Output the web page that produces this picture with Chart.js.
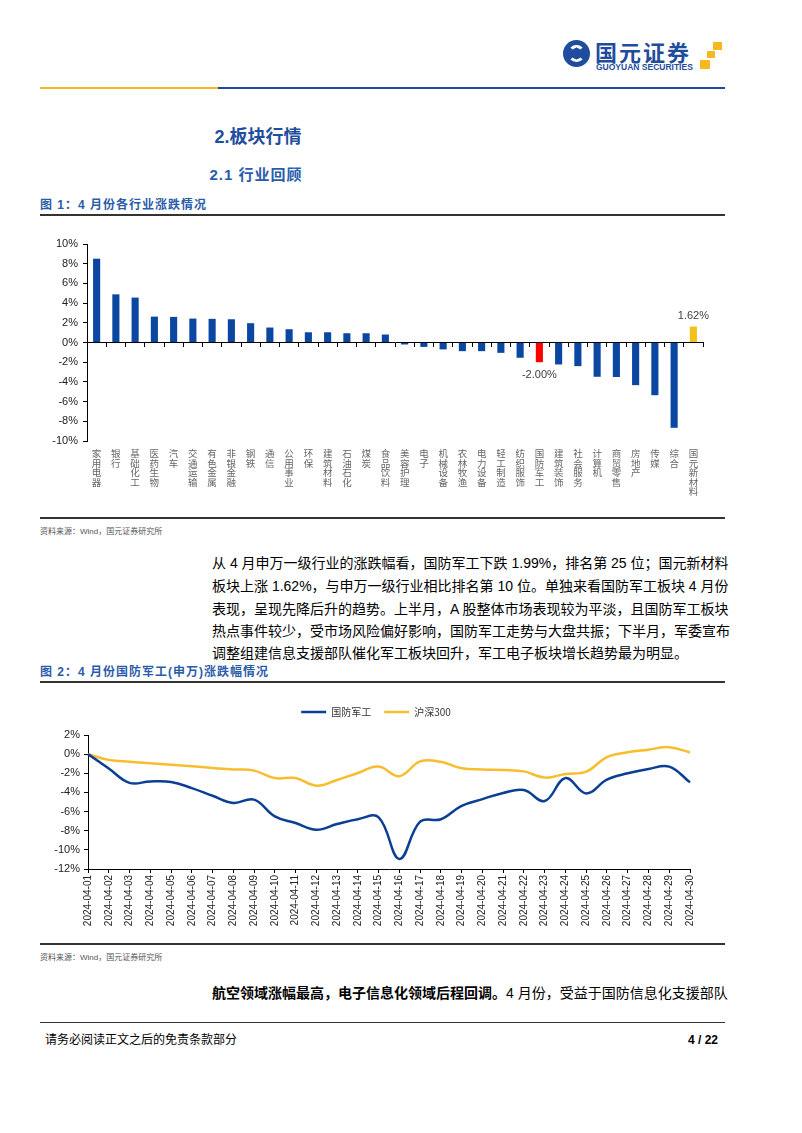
<!DOCTYPE html>
<html>
<head>
<meta charset="utf-8">
<script src="https://cdn.jsdelivr.net/npm/chart.js@4.4.1/dist/chart.umd.min.js"></script>
<style>
  body { margin:0; width:802px; height:1133px; position:relative; overflow:hidden; background:#fff;
         font-family:"Liberation Sans","Noto Sans CJK SC",sans-serif; color:#000; }
  .abs { position:absolute; }
  .rule { position:absolute; left:40px; width:685px; height:1.5px; background:#333; }
  .figtitle { position:absolute; left:40px; font-size:12px; font-weight:bold; color:#2a5caa; letter-spacing:1px; }
  .src { position:absolute; left:40px; font-size:8px; color:#555; }
  .para { position:absolute; left:212px; width:513px; height:22px; line-height:22px; font-size:14px;
          text-align:justify; text-align-last:justify; white-space:nowrap; }
</style>
</head>
<body>
<!-- header logo -->
<div class="abs" style="left:563px;top:40px;width:27px;height:27px;border-radius:50%;background:#1f4c9c;"></div>
<div class="abs" style="left:568px;top:45px;width:11px;height:11px;border-radius:50%;border:3px solid #fff;border-right-color:transparent;border-left-color:transparent;"></div>
<div class="abs" style="left:572px;top:49px;width:9px;height:9px;background:#1f4c9c;transform:rotate(45deg);"></div>
<div class="abs" style="left:595px;top:38px;font-size:22px;font-weight:bold;color:#1f4c9c;letter-spacing:2px;font-family:'Noto Sans CJK SC';line-height:26px;">国元证券</div>
<div class="abs" style="left:596px;top:62px;font-size:8.5px;font-weight:bold;color:#1f4c9c;line-height:10px;">GUOYUAN SECURITIES</div>
<div class="abs" style="left:713px;top:42px;width:9px;height:8px;background:#f5b821;"></div>
<div class="abs" style="left:707px;top:51px;width:8px;height:7px;background:#f5b821;"></div>
<div class="abs" style="left:700px;top:60px;width:10px;height:9px;background:#f5b821;"></div>
<div class="abs" style="left:40px;top:87px;width:178px;height:2px;background:#f5b921;"></div>
<div class="abs" style="left:218px;top:87px;width:507px;height:2px;background:#1f4a9c;"></div>

<div class="abs" style="left:158px;width:200px;top:124px;text-align:center;font-size:18px;font-weight:bold;color:#1f4e9e;line-height:26px;">2.板块行情</div>
<div class="abs" style="left:156px;width:200px;top:164px;text-align:center;font-size:15px;font-weight:bold;color:#2a5caa;line-height:22px;letter-spacing:1px;">2.1 行业回顾</div>

<div class="figtitle" style="top:197px;line-height:16px;">图 1：4 月份各行业涨跌情况</div>
<div class="rule" style="top:214px;"></div>
<div class="abs" style="left:40px;top:225px;"><canvas id="c1" width="685" height="285"></canvas></div>
<div class="rule" style="top:517px;"></div>
<div class="src" style="top:525px;">资料来源：Wind，国元证券研究所</div>

<div class="para" style="top:552px;">从 4 月申万一级行业的涨跌幅看，国防军工下跌 1.99%，排名第 25 位；国元新材料</div>
<div class="para" style="top:575px;">板块上涨 1.62%，与申万一级行业相比排名第 10 位。单独来看国防军工板块 4 月份</div>
<div class="para" style="top:598px;">表现，呈现先降后升的趋势。上半月，A 股整体市场表现较为平淡，且国防军工板块</div>
<div class="para" style="top:620px;">热点事件较少，受市场风险偏好影响，国防军工走势与大盘共振；下半月，军委宣布</div>
<div class="para" style="top:642px;text-align-last:left;">调整组建信息支援部队催化军工板块回升，军工电子板块增长趋势最为明显。</div>

<div class="figtitle" style="top:664px;line-height:16px;">图 2：4 月份国防军工(申万)涨跌幅情况</div>
<div class="rule" style="top:681px;"></div>
<div class="abs" style="left:40px;top:690px;"><canvas id="c2" width="685" height="250"></canvas></div>
<div class="rule" style="top:943px;"></div>
<div class="src" style="top:951px;">资料来源：Wind，国元证券研究所</div>

<div class="para" style="top:982px;"><b>航空领域涨幅最高，电子信息化领域后程回调。</b>4 月份，受益于国防信息化支援部队</div>

<div class="rule" style="top:1022px;height:1px;"></div>
<div class="abs" style="left:45px;top:1032px;font-size:12px;line-height:16px;">请务必阅读正文之后的免责条款部分</div>
<div class="abs" style="left:688px;top:1032px;font-size:12px;font-weight:bold;line-height:16px;">4 / 22</div>

<script>
Chart.defaults.font.family = '"Liberation Sans", "Noto Sans CJK SC", sans-serif';
Chart.defaults.animation = false;

// figure 1: April change by SW level-1 industry (%)
const industries = ["家用电器","银行","基础化工","医药生物","汽车","交通运输","有色金属","非银金融","钢铁","通信",
  "公用事业","环保","建筑材料","石油石化","煤炭","食品饮料","美容护理","电子","机械设备","农林牧渔",
  "电力设备","轻工制造","纺织服饰","国防军工","建筑装饰","社会服务","计算机","商贸零售","房地产","传媒",
  "综合","国元新材料"];
const changes = [8.51,4.89,4.56,2.63,2.60,2.43,2.40,2.36,1.96,1.52,
  1.35,1.04,1.04,0.94,0.94,0.81,-0.20,-0.45,-0.70,-0.88,
  -0.88,-1.05,-1.55,-2.00,-2.23,-2.40,-3.48,-3.50,-4.33,-5.35,
  -8.66,1.62];
const labelled = ["国防军工","国元新材料"];
const barColors = industries.map(n => n === "国防军工" ? "#ff0000" : (n === "国元新材料" ? "#f5c018" : "#0b47a1"));

// figure 2: daily cumulative change (%)
const dates = ["2024-04-01","2024-04-02","2024-04-03","2024-04-04","2024-04-05","2024-04-06","2024-04-07","2024-04-08",
  "2024-04-09","2024-04-10","2024-04-11","2024-04-12","2024-04-13","2024-04-14","2024-04-15","2024-04-16",
  "2024-04-17","2024-04-18","2024-04-19","2024-04-20","2024-04-21","2024-04-22","2024-04-23","2024-04-24",
  "2024-04-25","2024-04-26","2024-04-27","2024-04-28","2024-04-29","2024-04-30"];
const guofang = [0,-1.5,-3.0,-2.85,-2.9,-3.55,-4.35,-5.1,-4.75,-6.5,-7.2,-7.9,-7.3,-6.8,-6.6,-10.95,
  -7.05,-6.8,-5.4,-4.7,-4.05,-3.75,-4.9,-2.5,-4.1,-2.65,-2.0,-1.55,-1.3,-2.95];
const hs300 = [0,-0.6,-0.8,-0.95,-1.1,-1.27,-1.44,-1.6,-1.72,-2.5,-2.5,-3.3,-2.7,-1.97,-1.3,-2.3,
  -0.75,-0.8,-1.48,-1.6,-1.65,-1.8,-2.45,-2.07,-1.83,-0.3,0.2,0.47,0.73,0.18];

const pct = v => v + "%";

//draw the value above / below highlighted bars
const valueLabels = {
  id: "valueLabels",
  afterDatasetsDraw(chart) {
    const meta = chart.getDatasetMeta(0);
    const ctx = chart.ctx;
    ctx.save();
    ctx.font = '11px "Liberation Sans"';
    ctx.fillStyle = "#404040";
    ctx.textAlign = "center";
    labelled.forEach(name => {
      const i = industries.indexOf(name);
      const bar = meta.data[i];
      const v = changes[i];
      if (v >= 0) {
        ctx.textBaseline = "bottom";
        ctx.fillText(v.toFixed(2) + "%", bar.x, bar.y - 5);
      } else {
        ctx.textBaseline = "top";
        ctx.fillText(v.toFixed(2) + "%", bar.x, bar.y + 7);
      }
    });
    ctx.restore();
  }
};

new Chart(document.getElementById("c1"), {
  type: "bar",
  plugins: [valueLabels],
  data: {
    labels: industries,
    datasets: [{ data: changes, backgroundColor: barColors, barPercentage: 0.37, categoryPercentage: 1 }]
  },
  options: {
    responsive: false,
    layout: { padding: { top: 19, right: 22, left: 0, bottom: 0 } },
    plugins: { legend: { display: false }, tooltip: { enabled: false } },
    scales: {
      x: {
        offset: true,
        grid: { display: false, drawTicks: false },
        border: { display: false },
        ticks: {
          autoSkip: false, maxRotation: 0, minRotation: 0, padding: 8, color: "#666",
          font: { family: '"Noto Sans CJK SC"', size: 9.5, lineHeight: 1.0 },
          callback: (v, i) => industries[i].split("")
        },
        afterFit: s => { s.height = 69; }
      },
      x0: {
        axis: "x", type: "category", labels: industries, offset: true, position: { y: 0 },
        grid: { offset: true, drawOnChartArea: false, drawTicks: true, tickLength: 4, color: "#000" },
        border: { display: true, color: "#000", width: 1 },
        ticks: { display: false }
      },
      y: {
        min: -10, max: 10,
        ticks: { stepSize: 2, padding: 5, color: "#222", font: { size: 11 }, callback: pct },
        grid: { drawOnChartArea: false, tickLength: 4, color: "#000" },
        border: { color: "#000" },
        afterFit: s => { s.width = 47; }
      }
    }
  }
});

//extra space between legend and plot
const legendGap = {
  id: "legendGap",
  beforeInit(chart) {
    const fit = chart.legend.fit;
    chart.legend.fit = function () { fit.call(this); this.height += 8; };
  }
};

new Chart(document.getElementById("c2"), {
  type: "line",
  plugins: [legendGap],
  data: {
    labels: dates,
    datasets: [
      { label: "国防军工", data: guofang, borderColor: "#0b3f94", backgroundColor: "#0b3f94", borderWidth: 2.5, pointRadius: 0, tension: 0.4 },
      { label: "沪深300", data: hs300, borderColor: "#f8bd2c", backgroundColor: "#f8bd2c", borderWidth: 2.5, pointRadius: 0, tension: 0.4 }
    ]
  },
  options: {
    responsive: false,
    layout: { padding: { top: 4, left: 12, right: 25, bottom: 0 } },
    plugins: {
      tooltip: { enabled: false },
      legend: {
        labels: {
          usePointStyle: true, pointStyle: "line", pointStyleWidth: 25, padding: 13, color: "#333",
          font: { family: '"Noto Sans CJK SC"', size: 10 }
        }
      }
    },
    scales: {
      x: {
        grid: { drawOnChartArea: false, tickLength: 4, color: "#000" },
        border: { color: "#000" },
        ticks: { autoSkip: false, minRotation: 90, maxRotation: 90, padding: 2, color: "#222", font: { size: 10 } },
        afterFit: s => { s.height = 71; }
      },
      y: {
        min: -12, max: 2,
        ticks: { stepSize: 2, padding: 4, color: "#222", font: { size: 11 }, callback: pct },
        grid: { drawOnChartArea: false, tickLength: 4, color: "#000" },
        border: { color: "#000" },
        afterFit: s => { s.width = 36; }
      },
      // empty right-hand box, keeps the legend centred like the original
      yPad: {
        axis: "y", position: "right", display: true,
        grid: { display: false }, border: { display: false }, ticks: { display: false },
        afterFit: s => { s.width = 10; }
      }
    }
  }
});
</script>
</body>
</html>
